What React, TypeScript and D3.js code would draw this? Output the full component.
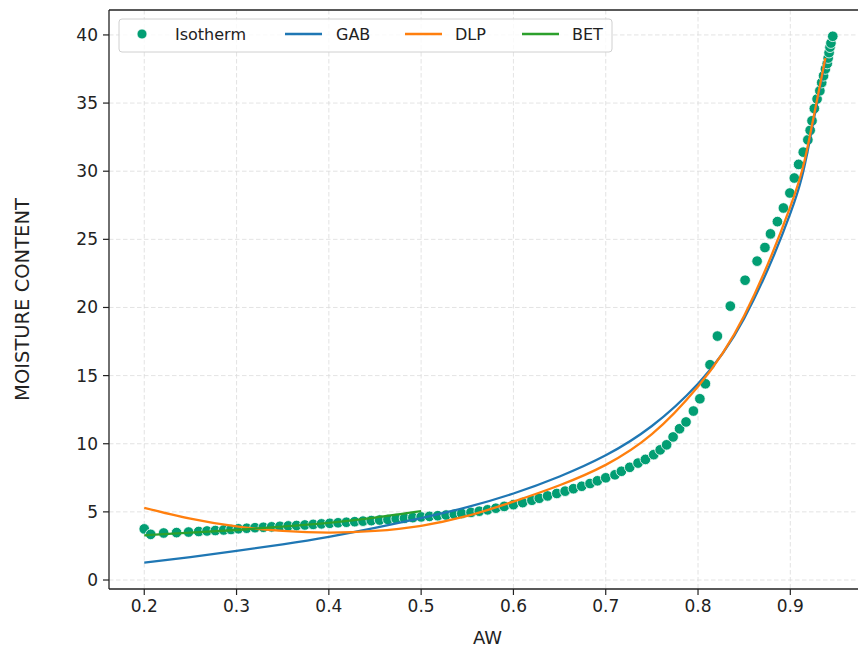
import React from "react";
import * as d3 from "d3";

const isoAw = [0.2, 0.207, 0.221, 0.235, 0.248, 0.259, 0.268, 0.277, 0.286, 0.294, 0.302, 0.311, 0.32, 0.329, 0.338, 0.347, 0.356, 0.365, 0.374, 0.383, 0.392, 0.401, 0.41, 0.419, 0.428, 0.437, 0.446, 0.455, 0.464, 0.473, 0.482, 0.491, 0.5, 0.509, 0.518, 0.527, 0.536, 0.544, 0.554, 0.563, 0.572, 0.581, 0.59, 0.6, 0.61, 0.62, 0.628, 0.637, 0.647, 0.656, 0.665, 0.674, 0.683, 0.691, 0.7, 0.71, 0.717, 0.726, 0.735, 0.743, 0.752, 0.759, 0.766, 0.773, 0.78, 0.787, 0.795, 0.802, 0.808, 0.813, 0.821, 0.835, 0.851, 0.864, 0.8725, 0.8785, 0.886, 0.8925, 0.8995, 0.9043, 0.909, 0.914, 0.919, 0.9215, 0.9235, 0.926, 0.929, 0.932, 0.934, 0.936, 0.938, 0.94, 0.941, 0.942, 0.943, 0.944, 0.946];
const isoMc = [3.75, 3.35, 3.45, 3.48, 3.52, 3.56, 3.6, 3.63, 3.67, 3.71, 3.76, 3.8, 3.84, 3.87, 3.9, 3.94, 3.97, 4.0, 4.04, 4.08, 4.12, 4.16, 4.2, 4.24, 4.28, 4.32, 4.36, 4.4, 4.44, 4.49, 4.53, 4.58, 4.63, 4.67, 4.72, 4.77, 4.82, 4.88, 4.96, 5.05, 5.15, 5.27, 5.4, 5.53, 5.68, 5.85, 6.0, 6.17, 6.35, 6.52, 6.7, 6.88, 7.08, 7.28, 7.5, 7.72, 7.98, 8.27, 8.58, 8.85, 9.2, 9.55, 9.92, 10.5, 11.1, 11.6, 12.4, 13.3, 14.4, 15.8, 17.9, 20.1, 22.0, 23.4, 24.4, 25.4, 26.3, 27.3, 28.4, 29.5, 30.5, 31.4, 32.3, 33.0, 33.7, 34.6, 35.3, 35.9, 36.5, 37.0, 37.5, 37.9, 38.3, 38.7, 39.1, 39.4, 39.9];

const gabAw = [0.2, 0.25, 0.3, 0.35, 0.4, 0.45, 0.5, 0.55, 0.6, 0.65, 0.7, 0.75, 0.8, 0.85, 0.9, 0.92, 0.938];
const gabMc = [1.27, 1.68, 2.13, 2.62, 3.17, 3.82, 4.55, 5.35, 6.35, 7.6, 9.15, 11.3, 14.4, 19.2, 26.9, 31.9, 38.2];

const dlpAw = [0.2, 0.25, 0.3, 0.35, 0.4, 0.45, 0.5, 0.55, 0.6, 0.65, 0.7, 0.75, 0.8, 0.85, 0.9, 0.92, 0.938];
const dlpMc = [5.3, 4.5, 3.93, 3.6, 3.48, 3.6, 3.98, 4.7, 5.75, 6.95, 8.45, 10.7, 14.2, 19.4, 27.4, 32.2, 38.3];

const betAw = [0.2, 0.25, 0.3, 0.35, 0.4, 0.45, 0.5];
const betMc = [3.28, 3.47, 3.67, 3.92, 4.2, 4.58, 5.05];

const xTicks = [0.2, 0.3, 0.4, 0.5, 0.6, 0.7, 0.8, 0.9];
const yTicks = [0, 5, 10, 15, 20, 25, 30, 35, 40];

const legendLabels = ["Isotherm", "GAB", "DLP", "BET"];
const colors = { iso: "#029e73", gab: "#1f77b4", dlp: "#ff7f0e", bet: "#2ca02c" };

const W = 858, H = 652;
const left = 109, top = 10, bottom = 589, right = 866;
const FONT = "DejaVu Sans, sans-serif";

export default function App() {
  const x = d3.scaleLinear().domain([0.1618, 0.982]).range([left, right]);
  const y = d3.scaleLinear().domain([-0.66, 41.83]).range([bottom, top]);

  const line = d3.line<[number, number]>().x(d => x(d[0])).y(d => y(d[1])).curve(d3.curveNatural);
  const pts = (a: number[], b: number[]) => a.map((v, i) => [v, b[i]] as [number, number]);

  const tickColor = "#222";
  const legendItems = [
    { label: legendLabels[0], type: "dot", color: colors.iso, hx: 124, tx: 175 },
    { label: legendLabels[1], type: "line", color: colors.gab, hx: 285, tx: 336 },
    { label: legendLabels[2], type: "line", color: colors.dlp, hx: 405, tx: 455 },
    { label: legendLabels[3], type: "line", color: colors.bet, hx: 522, tx: 572 },
  ];

  return (
    <svg width={W} height={H} style={{ position: "absolute", left: 0, top: 0, background: "#fff" }} fontFamily={FONT}>
      <rect x={0} y={0} width={W} height={H} fill="#fff" />
      <g stroke="#dcdcdc" strokeWidth={0.8} strokeDasharray="4.5,2.5">
        {xTicks.map(t => <line key={"gx" + t} x1={x(t)} x2={x(t)} y1={top} y2={bottom} />)}
        {yTicks.map(t => <line key={"gy" + t} x1={left} x2={right} y1={y(t)} y2={y(t)} />)}
      </g>
      <g>
        {isoAw.map((a, i) => (
          <circle key={"p" + i} cx={x(a)} cy={y(isoMc[i])} r={5.3} fill={colors.iso} stroke="#fff" strokeWidth={0.8} />
        ))}
      </g>
      <path d={line(pts(gabAw, gabMc)) || ""} fill="none" stroke={colors.gab} strokeWidth={2.3} />
      <path d={line(pts(dlpAw, dlpMc)) || ""} fill="none" stroke={colors.dlp} strokeWidth={2.3} />
      <path d={line(pts(betAw, betMc)) || ""} fill="none" stroke={colors.bet} strokeWidth={2.3} />
      <g stroke={tickColor} strokeWidth={1.3} fill="none">
        <line x1={left} x2={left} y1={top} y2={bottom} />
        <line x1={left} x2={right} y1={bottom} y2={bottom} />
        <line x1={left} x2={right} y1={top} y2={top} />
        <line x1={right} x2={right} y1={top} y2={bottom} />
      </g>
      {xTicks.map(t => (
        <g key={"xt" + t}>
          <line x1={x(t)} x2={x(t)} y1={bottom} y2={bottom + 6} stroke={tickColor} strokeWidth={1.2} />
          <text x={x(t)} y={bottom + 23} textAnchor="middle" fontSize={17} fill="#222">{t.toFixed(1)}</text>
        </g>
      ))}
      {yTicks.map(t => (
        <g key={"yt" + t}>
          <line x1={left - 6} x2={left} y1={y(t)} y2={y(t)} stroke={tickColor} strokeWidth={1.2} />
          <text x={left - 11} y={y(t)} dy="0.35em" textAnchor="end" fontSize={17} fill="#222">{t}</text>
        </g>
      ))}
      <text x={(left + right) / 2} y={644} textAnchor="middle" fontSize={18} fill="#222">AW</text>
      <text transform={`translate(29,${(top + bottom) / 2}) rotate(-90)`} textAnchor="middle" fontSize={19.5} fill="#222">MOISTURE CONTENT</text>
      <rect x={119} y={19} width={493} height={33} rx={3} fill="#fff" fillOpacity={0.8} stroke="#d0d0d0" strokeWidth={1} />
      {legendItems.map(it => (
        <g key={it.label}>
          {it.type === "dot" ? (
            <circle cx={it.hx + 18} cy={34} r={5} fill={it.color} stroke="#fff" strokeWidth={0.8} />
          ) : (
            <line x1={it.hx} x2={it.hx + 37} y1={34} y2={34} stroke={it.color} strokeWidth={2.3} />
          )}
          <text x={it.tx} y={34} dy="0.35em" fontSize={16} fill="#222">{it.label}</text>
        </g>
      ))}
    </svg>
  );
}
